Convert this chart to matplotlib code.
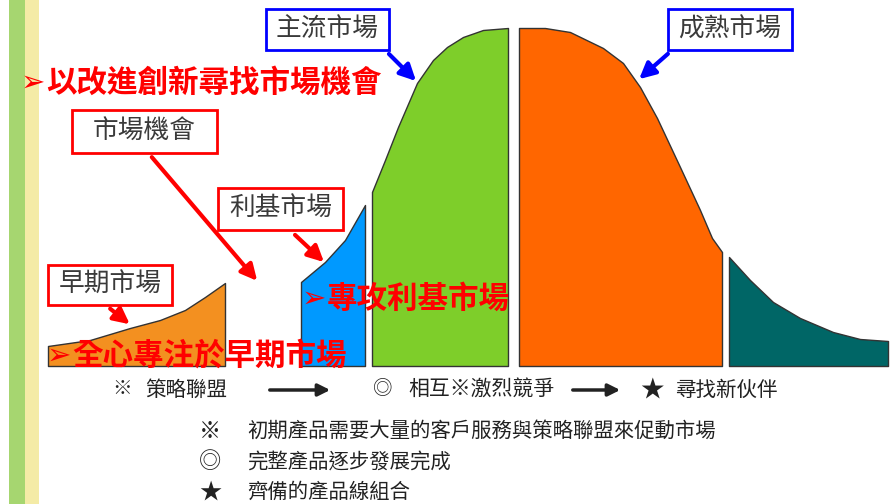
import matplotlib.pyplot as plt
from matplotlib.patches import Rectangle, FancyArrowPatch

plt.rcParams['font.family'] = ['Noto Sans CJK TC', 'DejaVu Sans']

# market curve, split into five segments (x position, height above baseline)
early_x = [48, 90, 130, 160, 185, 205, 225]
early_h = [20, 26, 38, 46, 56, 69, 83]
niche_x = [301, 325, 345, 365]
niche_h = [84, 104, 126, 161]
main_x = [372, 385, 398, 417, 433, 447, 463, 483, 508]
main_h = [174, 206, 239, 283, 306, 319, 329, 336, 338]
mature_x = [519, 545, 570, 603, 623, 640, 657, 680, 700, 712, 722]
mature_h = [338, 338, 334, 318, 303, 279, 248, 199, 156, 128, 114]
tail_x = [729, 750, 773, 800, 833, 860, 888]
tail_h = [109, 86, 64, 48, 34, 27, 25]

segments = [
    (early_x, early_h, '#F39020'),
    (niche_x, niche_h, '#0099FF'),
    (main_x, main_h, '#7ECE2A'),
    (mature_x, mature_h, '#FF6600'),
    (tail_x, tail_h, '#006666'),
]

box_labels = ['早期市場', '利基市場', '市場機會', '主流市場', '成熟市場']
strategy_labels = ['以改進創新尋找市場機會', '專攻利基市場', '全心專注於早期市場']
stage_labels = ['策略聯盟', '相互※激烈競爭', '尋找新伙伴']
notes = ['初期產品需要大量的客戶服務與策略聯盟來促動市場',
         '完整產品逐步發展完成',
         '齊備的產品線組合']
note_marks = ['※', '◎', '★']

fig = plt.figure(figsize=(8.9, 5.04), dpi=100)
ax = fig.add_axes([0, 0, 1, 1])
ax.set_xlim(0, 890)
ax.set_ylim(-138, 366)
ax.axis('off')

# side stripe
ax.add_patch(Rectangle((9, -138), 16, 504, facecolor='#A6D670', edgecolor='none'))
ax.add_patch(Rectangle((25, -138), 14, 504, facecolor='#F4EBA6', edgecolor='none'))

for xs, hs, col in segments:
    ax.fill_between(xs, 0, hs, facecolor=col, edgecolor='#333333', linewidth=1, zorder=2)

def label_box(x0, y0, w, h, text, color):
    ax.add_patch(Rectangle((x0, y0), w, h, facecolor='white', edgecolor=color,
                           linewidth=2, zorder=3))
    ax.text(x0 + w / 2, y0 + h / 2, text, ha='center', va='center',
            fontsize=18.5, color='#3a3a3a', zorder=4)

def arrow(p0, p1, color, lw=3, scale=24):
    ax.add_patch(FancyArrowPatch(p0, p1, arrowstyle='-|>', color=color,
                                 linewidth=lw, mutation_scale=scale, zorder=5))

label_box(48, 61, 124, 40, box_labels[0], '#FF0000')
label_box(218, 136, 125, 42, box_labels[1], '#FF0000')
label_box(72, 213, 145, 43, box_labels[2], '#FF0000')
label_box(266, 316, 123, 41, box_labels[3], '#0000FF')
label_box(668, 316, 124, 41, box_labels[4], '#0000FF')

arrow((108, 59), (132, 40), '#FF0000')
arrow((293, 133), (326, 102), '#FF0000')
arrow((150, 211), (259, 83), '#FF0000')
arrow((387, 314), (418, 283), '#0000FF')
arrow((670, 314), (637, 285), '#0000FF')

# strategy headlines
for (x, y), txt in zip([(21, 283), (302, 67), (47, 10)], strategy_labels):
    ax.text(x, y, '➢', ha='left', va='center', fontsize=21, color='#FF0000',
            family='DejaVu Sans', zorder=6)
    ax.text(x + 25, y, txt, ha='left', va='center', fontsize=22,
            fontweight='bold', color='#FF0000', zorder=6)

# stage flow
ax.text(122, -22, '※', ha='center', va='center', fontsize=14, color='#222222')
ax.text(145, -24, stage_labels[0], ha='left', va='center', fontsize=14.8, color='#222222')
ax.text(383, -22, '◎', ha='center', va='center', fontsize=14, color='#222222')
ax.text(408, -24, stage_labels[1], ha='left', va='center', fontsize=15, color='#222222')
ax.text(652, -24, '★', ha='center', va='center', fontsize=17, color='#222222')
ax.text(675, -24, stage_labels[2], ha='left', va='center', fontsize=14.8, color='#222222')
arrow((267, -24), (333, -24), '#222222', lw=2.5, scale=18)
arrow((570, -24), (623, -24), '#222222', lw=2.5, scale=18)

for y, mark, txt in zip([-65, -96, -126], note_marks, notes):
    ax.text(210, y, mark, ha='center', va='center', fontsize=16, color='#222222')
    ax.text(247, y, txt, ha='left', va='center', fontsize=14.7, color='#222222')

fig.savefig('out.png', dpi=100)
